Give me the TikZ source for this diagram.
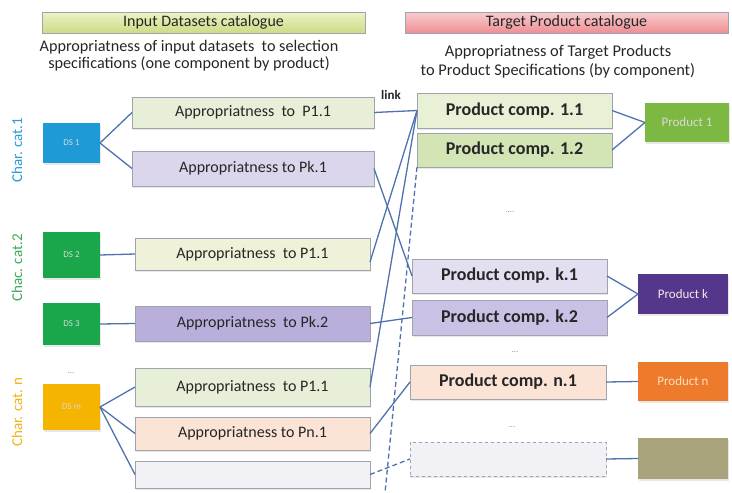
\documentclass[tikz,border=0pt]{standalone}
\usepackage{fontspec}
\setmainfont{Carlito}
\usetikzlibrary{shadows}
\definecolor{conn}{HTML}{4F72AE}
\definecolor{bord}{HTML}{9EA3AE}
\definecolor{txt}{HTML}{262626}
\definecolor{hdrLa}{HTML}{EDF2C4}
\definecolor{hdrLb}{HTML}{CCDC86}
\definecolor{hdrRa}{HTML}{F9CDCF}
\definecolor{hdrRb}{HTML}{EE8E93}
\definecolor{aGreen}{HTML}{E8EFD8}
\definecolor{aLav}{HTML}{DCD6EC}
\definecolor{aYel}{HTML}{EFF2D9}
\definecolor{aPur}{HTML}{BAAFDB}
\definecolor{aPeach}{HTML}{FBE4D6}
\definecolor{aGrey}{HTML}{F1F1F6}
\definecolor{cGreenA}{HTML}{E8F0D6}
\definecolor{cGreenB}{HTML}{D3E5B5}
\definecolor{cLav}{HTML}{E4DEF1}
\definecolor{cPur}{HTML}{CBC1E5}
\definecolor{dsBlue}{HTML}{1E9AD6}
\definecolor{dsGreen}{HTML}{1AA64A}
\definecolor{dsGold}{HTML}{F4B400}
\definecolor{pGreen}{HTML}{7DB843}
\definecolor{pPurple}{HTML}{54378A}
\definecolor{pOrange}{HTML}{EE7A2C}
\definecolor{pOlive}{HTML}{A8A37A}
\definecolor{catBlue}{HTML}{2A9BD3}
\definecolor{catGreen}{HTML}{3DA85A}
\definecolor{catGold}{HTML}{F2B316}
\begin{document}
\begin{tikzpicture}[x=1pt,y=-1pt,
  box/.style={rectangle,draw=bord,line width=0.9pt,inner sep=0pt,outer sep=0pt,
     text=txt,font=\fontsize{16}{18}\selectfont,
     drop shadow={opacity=0.18,shadow xshift=1pt,shadow yshift=-1.5pt}},
  cbox/.style={box,font=\bfseries\fontsize{18}{20}\selectfont},
  dsbox/.style={rectangle,draw=none,inner sep=0pt,outer sep=0pt,minimum width=57pt,
     text=white!85!black,font=\fontsize{9}{10}\selectfont,
     drop shadow={opacity=0.18,shadow xshift=1pt,shadow yshift=-1.5pt}},
  pbox/.style={dsbox,minimum width=90pt,font=\fontsize{13}{14}\selectfont},
  hdr/.style={rectangle,draw=bord,line width=0.6pt,inner sep=0pt,outer sep=0pt,
     minimum width=323pt,minimum height=21pt,text=txt,font=\fontsize{16}{18}\selectfont},
  sub/.style={align=center,text=txt,font=\fontsize{16.2}{17}\selectfont},
  cat/.style={rotate=90,font=\fontsize{15}{17}\selectfont},
  dots/.style={text=gray,font=\fontsize{8}{9}\selectfont},
  link/.style={draw=conn,line width=1.3pt},
  dlink/.style={link,dashed,dash pattern=on 5pt off 3pt}]
\useasboundingbox (0,0) rectangle (732,493);

% headers
\node[hdr,top color=hdrLa,bottom color=hdrLb] (hL) at (203.5,22.5) {Input Datasets catalogue};
\node[hdr,top color=hdrRa,bottom color=hdrRb] (hR) at (566.5,22.5) {Target Product catalogue};
\node[sub] (sL) at (189,55.5) {Appropriatness of input datasets\ \ to selection\\specifications (one component by product)};
\node[sub,font=\fontsize{16.4}{19}\selectfont] (sR) at (558,62) {Appropriatness of Target Products\\to Product Specifications (by component)};

% category labels
\node[cat,text=catBlue] (k1) at (17,150) {Char. cat.1};
\node[cat,text=catGreen] (k2) at (17,268) {Chac. cat.2};
\node[cat,text=catGold] (k3) at (17,412) {Char. cat. n};

% datasets
\node[dsbox,fill=dsBlue,minimum height=40pt] (d1) at (71.5,143) {DS 1};
\node[dsbox,fill=dsGreen,minimum height=46pt] (d2) at (71.5,255) {DS 2};
\node[dsbox,fill=dsGreen,minimum height=42pt] (d3) at (71.5,324) {DS 3};
\node[dots] (dl) at (71,373) {...};
\node[dsbox,fill=dsGold,minimum height=46pt] (dm) at (71.5,407) {DS m};

% appropriateness boxes
\node[box,fill=aGreen,minimum width=242pt,minimum height=31pt] (a1) at (253,112.5) {Appropriatness\ \ to\ \ P1.1};
\node[box,fill=aLav,minimum width=242pt,minimum height=35pt] (a2) at (253,168.5) {Appropriatness to Pk.1};
\node[box,fill=aYel,minimum width=235pt,minimum height=32pt] (a3) at (252.5,254) {Appropriatness\ \ to P1.1};
\node[box,fill=aPur,minimum width=235pt,minimum height=35pt] (a4) at (252.5,323.5) {Appropriatness\ \ to Pk.2};
\node[box,fill=aGreen,minimum width=235pt,minimum height=38pt] (a5) at (252.5,387) {Appropriatness\ \ to P1.1};
\node[box,fill=aPeach,minimum width=235pt,minimum height=33pt] (a6) at (252.5,433.5) {Appropriatness to Pn.1};
\node[box,fill=aGrey,minimum width=235pt,minimum height=27pt] (a7) at (252.5,474.5) {};

% product components
\node[cbox,fill=cGreenA,minimum width=195pt,minimum height=35pt] (c11) at (514.5,110.5) {Product comp. 1.1};
\node[cbox,fill=cGreenB,minimum width=195pt,minimum height=34pt] (c12) at (514.5,150) {Product comp. 1.2};
\node[dots] (dr1) at (510,212) {....};
\node[cbox,fill=cLav,minimum width=195pt,minimum height=34pt] (ck1) at (509.5,276) {Product comp. k.1};
\node[cbox,fill=cPur,minimum width=195pt,minimum height=35pt] (ck2) at (509.5,317.5) {Product comp. k.2};
\node[dots] (dr2) at (515,352) {...};
\node[cbox,fill=aPeach,minimum width=196pt,minimum height=34pt] (cn1) at (508,382) {Product comp. n.1};
\node[dots] (dr3) at (512,427) {...};
\node[box,fill=aGrey,draw=bord,dashed,minimum width=196pt,minimum height=34pt] (ce) at (508,459) {};

% products
\node[pbox,fill=pGreen,minimum width=84pt,minimum height=39pt] (p1) at (687,122.5) {Product 1};
\node[pbox,fill=pPurple,minimum height=40pt,text=white!90!purple] (pk) at (683,294) {Product k};
\node[pbox,fill=pOrange,minimum height=39pt,text=white!75!orange] (pn) at (683,381.5) {Product n};
\node[pbox,fill=pOlive,minimum height=41pt] (po) at (683,458.5) {};

\node[text=txt,font=\bfseries\fontsize{13}{14}\selectfont] (lk) at (391,95) {link};

% connectors left
\draw[link] (d1.east) -- (a1.west);
\draw[link] (d1.east) -- (a2.west);
\draw[link] (d2.east) -- (a3.west);
\draw[link] (d3.east) -- (a4.west);
\draw[link] (dm.east) -- (a5.west);
\draw[link] (dm.east) -- (a6.west);
\draw[link] (dm.east) -- (a7.west);

% middle links
\draw[link] (a1.east) -- (c11.west);
\draw[link] (a2.east) -- (ck1.west);
\draw[link] (a3.south east) ++(0,-8) -- (c11.west);
\draw[link] (a4.east) -- (ck2.west);
\draw[link] (a5.east) -- (c11.west);
\draw[link] (a6.east) -- (cn1.west);
\draw[dlink] (a7.east) -- (ce.west);
\coordinate (bot) at (385,493);
\draw[dlink] (c12.south west) -- (bot);

% right links
\draw[link] (c11.east) -- (p1.west);
\draw[link] (c12.east) -- (p1.west);
\draw[link] (ck1.east) -- (pk.west);
\draw[link] (ck2.east) -- (pk.west);
\draw[link] (cn1.east) -- (pn.west);
\draw[link] (ce.east) -- (po.west);
\end{tikzpicture}
\end{document}
